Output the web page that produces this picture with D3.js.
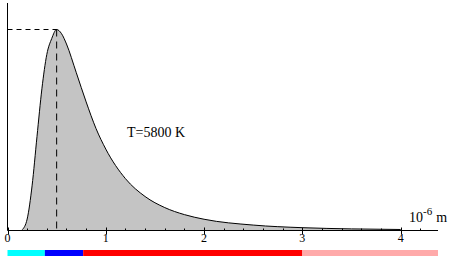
<html>
<head>
	<style type="text/css">
		body{ margin:0; background:#fff; }
		svg{ display:block; }
		text{ font-family:"Liberation Serif", "DejaVu Serif", serif; }
	</style>
	<script src="https://cdn.jsdelivr.net/npm/d3@7"></script>
</head>
<body>
	<svg id="svg" width="453" height="259"></svg>
	<script type="text/javascript">

		// wavelength in 10^-6 m, intensity relative to the peak
		var wavelengths = [0.15, 0.2, 0.25, 0.3, 0.35, 0.4, 0.45, 0.5, 0.55, 0.6, 0.7, 0.8, 0.9, 1.0, 1.2, 1.4, 1.6, 1.8, 2.0, 2.5, 3.0, 3.5, 4.0];
		var intensity   = [0.004, 0.057, 0.222, 0.467, 0.705, 0.876, 0.955, 1.0, 0.979, 0.928, 0.785, 0.64, 0.508, 0.405, 0.258, 0.169, 0.114, 0.079, 0.056, 0.027, 0.014, 0.008, 0.005];
		var peakX = 0.5;
		var tickValues = [0, 1, 2, 3, 4];
		var bandNames  = ["uv", "blue", "visible-red", "infrared"];
		var bandStart  = [0, 0.38, 0.77, 3.0];
		var bandEnd    = [0.38, 0.77, 3.0, 4.38];
		var bandColors = ["#00ffff", "#0000ff", "#ff0000", "#ffaaaa"];
		var label = "T=5800 K";

		var svg = d3.select("#svg");
		var x = d3.scaleLinear().domain([0, 4.38]).range([7.5, 438]);
		var y = d3.scaleLinear().domain([0, 1]).range([230.5, 29.5]);

		var pts = wavelengths.map(function(w, i){ return {w:w, v:intensity[i]}; });

		// filled area under the curve
		svg.append("path").datum(pts)
			.attr("d", d3.area().curve(d3.curveMonotoneX)
				.x(function(d){ return x(d.w); })
				.y0(y(0))
				.y1(function(d){ return y(d.v); }))
			.style("fill", "#c4c4c4");

		svg.append("path").datum(pts)
			.attr("d", d3.line().curve(d3.curveMonotoneX)
				.x(function(d){ return x(d.w); })
				.y(function(d){ return y(d.v); }))
			.style("fill", "none").style("stroke", "#000").style("stroke-width", 1);

		// dashed lines at the peak
		svg.append("line")
			.attr("x1", x(0)).attr("x2", x(peakX))
			.attr("y1", y(1)).attr("y2", y(1))
			.style("stroke", "#000").style("stroke-dasharray", "5,4");
		svg.append("line")
			.attr("x1", x(peakX)).attr("x2", x(peakX))
			.attr("y1", y(1)).attr("y2", y(0))
			.style("stroke", "#000").style("stroke-dasharray", "7,5");

		// axes
		svg.append("line").attr("x1", x(0)).attr("x2", x(0)).attr("y1", 3).attr("y2", y(0)).style("stroke", "#000");
		svg.append("line").attr("x1", x(0)).attr("x2", 438).attr("y1", y(0)).attr("y2", y(0)).style("stroke", "#000");

		var minor = d3.range(0, 4.3, 0.2);
		svg.append("g").selectAll("line").data(minor).enter().append("line")
			.attr("x1", function(d){ return Math.round(x(d)) + 0.5; })
			.attr("x2", function(d){ return Math.round(x(d)) + 0.5; })
			.attr("y1", y(0) - 2).attr("y2", y(0))
			.style("stroke", "#000");

		svg.append("g").selectAll("line").data(tickValues).enter().append("line")
			.attr("x1", function(d){ return Math.round(x(d)) + 0.5; })
			.attr("x2", function(d){ return Math.round(x(d)) + 0.5; })
			.attr("y1", y(0) - 3).attr("y2", y(0) + 4)
			.style("stroke", "#000");

		svg.append("g").selectAll("text").data(tickValues).enter().append("text")
			.attr("x", function(d){ return x(d); })
			.attr("y", 242)
			.attr("text-anchor", "middle")
			.style("font-size", "12px")
			.text(function(d){ return d; });

		// unit label
		var unit = svg.append("text").attr("x", 409).attr("y", 222).style("font-size", "14px");
		unit.append("tspan").text("10");
		unit.append("tspan").attr("dy", -7).style("font-size", "11px").text("-6");
		unit.append("tspan").attr("dy", 7).attr("dx", 4).text("m");

		svg.append("text").attr("x", 127).attr("y", 137).style("font-size", "14px").text(label);

		// spectrum bar
		svg.append("g").selectAll("rect").data(bandNames).enter().append("rect")
			.attr("x", function(d, i){ return x(bandStart[i]); })
			.attr("width", function(d, i){ return x(bandEnd[i]) - x(bandStart[i]); })
			.attr("y", 250).attr("height", 6)
			.style("fill", function(d, i){ return bandColors[i]; });

	</script>
</body>
</html>
